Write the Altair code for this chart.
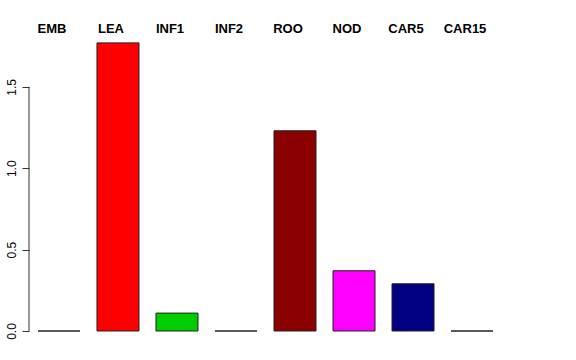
import altair as alt
import pandas as pd

categories = ["EMB", "LEA", "INF1", "INF2", "ROO", "NOD", "CAR5", "CAR15"]
values = [0.0, 1.77, 0.11, 0.0, 1.23, 0.37, 0.29, 0.0]
colors = ["#000000", "#FF0000", "#00CD00", "#0000FF", "#8B0000", "#FF00FF", "#000080", "#BEBEBE"]
y_ticks = [0.0, 0.5, 1.0, 1.5]
axis_span = [0.0, 1.5]

df = pd.DataFrame({"cat": categories, "val": values, "col": colors})
axis_df = pd.DataFrame({"y0": [axis_span[0]], "y1": [axis_span[1]]})

FONT = "Liberation Sans"

xenc = alt.X("cat:N", sort=categories,
             scale=alt.Scale(paddingInner=0.288, paddingOuter=0.152),
             axis=None)

bars = alt.Chart(df).mark_bar(stroke="#222222", strokeWidth=1).encode(
    x=xenc,
    y=alt.Y("val:Q", scale=alt.Scale(domain=[0, 1.8], nice=False, zero=True),
            axis=alt.Axis(values=y_ticks, format=".1f", title=None, domain=False,
                          grid=False, tickSize=7, tickColor="#333333",
                          labelAngle=270, labelAlign="center", labelBaseline="bottom",
                          labelFont=FONT, labelFontSize=12, labelColor="#000000",
                          labelPadding=4)),
    color=alt.Color("col:N", scale=None),
)

labels = alt.Chart(df).mark_text(
    font=FONT, fontSize=13, fontWeight="bold", color="#000000",
    baseline="middle", align="center", dx=-7,
).encode(
    x=xenc,
    y=alt.value(-9),
    text="cat:N",
)

axis_line = alt.Chart(axis_df).mark_rule(color="#333333", strokeWidth=1).encode(
    x=alt.value(0),
    y=alt.Y("y0:Q", scale=alt.Scale(domain=[0, 1.8], nice=False)),
    y2="y1:Q",
)

chart = alt.layer(bars, labels, axis_line).properties(
    width=473, height=293,
    padding={"left": 29, "top": 38, "right": 74, "bottom": 29},
    autosize=alt.AutoSizeParams(type="none"),
    background="#FFFFFF",
).configure_view(stroke=None)

chart.save("out.html", embed_options={"renderer": "svg", "actions": False})
